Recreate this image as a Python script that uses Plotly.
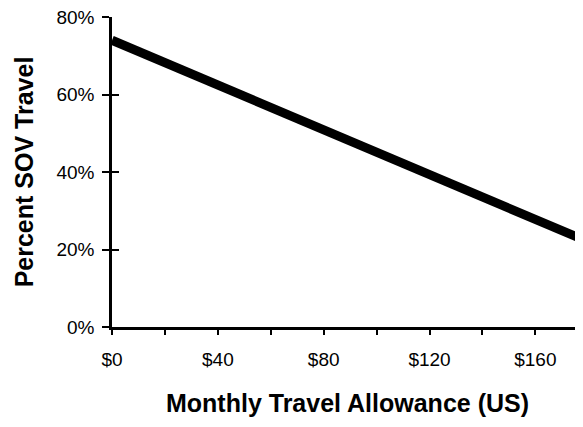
import plotly.graph_objects as go

allowance = [0, 180]
percent_sov = [74, 22]

x_tickvals = [0, 40, 80, 120, 160]
x_ticktext = ["$0", "$40", "$80", "$120", "$160"]
y_tickvals = [0, 20, 40, 60, 80]
y_ticktext = ["0%", "20%", "40%", "60%", "80%"]

font_family = "Liberation Sans, Arial, sans-serif"

fig = go.Figure()
fig.add_trace(go.Scatter(
    x=allowance, y=percent_sov, mode="lines",
    line=dict(color="black", width=9),
    showlegend=False, hoverinfo="skip",
))
fig.add_trace(go.Scatter(x=[None], y=[None], yaxis="y2", showlegend=False, hoverinfo="skip"))

fig.update_layout(
    width=575, height=419,
    margin=dict(l=104, r=0, t=9, b=100),
    paper_bgcolor="white", plot_bgcolor="white",
    font=dict(family=font_family, color="black", size=19),
    xaxis=dict(
        range=[0, 178], showgrid=False, zeroline=False,
        showline=True, linecolor="black", linewidth=2.5,
        tickvals=x_tickvals, ticktext=x_ticktext,
        ticks="outside", ticklen=5, tickwidth=2, tickcolor="black",
        minor=dict(dtick=20, tick0=0, ticks="outside", ticklen=5, tickwidth=2, tickcolor="black", showgrid=False),
        tickfont=dict(size=19), ticklabelstandoff=8, ticklabeloverflow="allow",
        title=dict(text="<b>Monthly Travel Allowance (US)</b>", font=dict(size=25), standoff=26),
    ),
    yaxis=dict(
        range=[0, 80], showgrid=False, zeroline=False,
        showline=True, linecolor="black", linewidth=2.5,
        tickvals=y_tickvals, ticktext=y_ticktext,
        ticks="outside", ticklen=7, tickwidth=2, tickcolor="black",
        tickfont=dict(size=19), ticklabelstandoff=4, ticklabeloverflow="allow",
        title=dict(text="<b>Percent SOV Travel</b>", font=dict(size=25), standoff=16),
    ),
    yaxis2=dict(
        range=[0, 80], overlaying="y", side="left", anchor="x",
        showgrid=False, zeroline=False, showline=False,
        tickvals=y_tickvals, showticklabels=False,
        ticks="inside", ticklen=7, tickwidth=2, tickcolor="black",
    ),
)

fig.write_html("out.html")
